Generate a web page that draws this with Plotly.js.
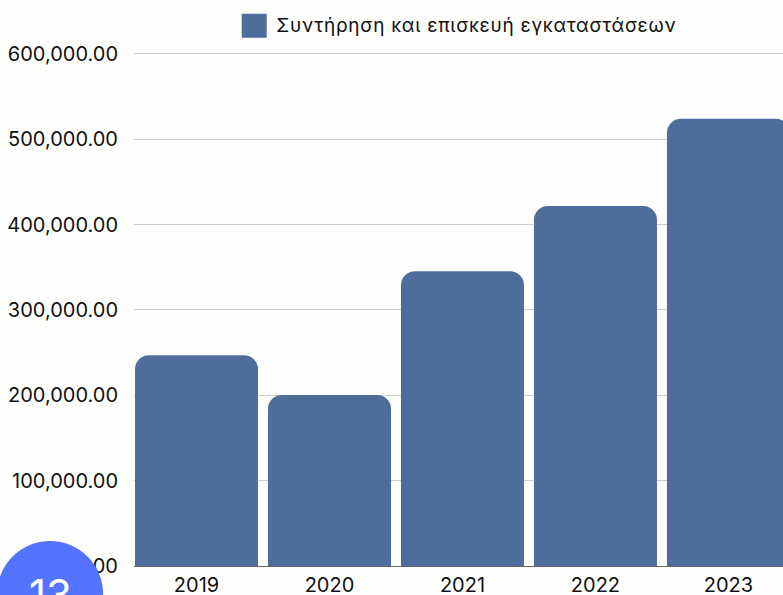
<!DOCTYPE html>
<html>
<head>
<meta charset="utf-8">
<script src="https://cdn.plot.ly/plotly-3.0.1.min.js"></script>
<style>
html,body{margin:0;padding:0;width:783px;height:595px;overflow:hidden;background:#fefefc;}
#chart{width:800px;height:595px;}
.legendtext{letter-spacing:0.72px;}
</style>
</head>
<body>
<div id="chart"></div>
<script>
const years = ['2019','2020','2021','2022','2023'];
const values = [247000, 200500, 345500, 422000, 524000];
const seriesName = 'Συντήρηση και επισκευή εγκαταστάσεων';
const yTicks = [0,100000,200000,300000,400000,500000,600000];
const yTickLabels = ['0.00','100,000.00','200,000.00','300,000.00','400,000.00','500,000.00','600,000.00'];
const barColor = '#4f6d9a';
const badgeText = '13';
const font = 'Inter, sans-serif';

const trace = {type:'bar', x:years, y:values, name:seriesName,
  marker:{color:barColor, line:{width:0}}, showlegend:true, hoverinfo:'y'};

const layout = {
  width:800, height:595,
  margin:{l:134, r:0, t:0, b:29, pad:0},
  paper_bgcolor:'#fefefc', plot_bgcolor:'#fefefc',
  font:{family:font, size:20, color:'#111111'},
  bargap:0.075, barcornerradius:14,
  xaxis:{type:'category', range:[-0.47,4.538], showgrid:false, ticks:'',
    tickfont:{family:font,size:20,color:'#111111'}, showline:true, linecolor:'#666666', linewidth:1,
    zeroline:false, ticklabelstandoff:1},
  yaxis:{domain:[0,0.90813], range:[0,602344], tickvals:yTicks, ticktext:yTickLabels, gridcolor:'#cccccc', gridwidth:1,
    ticks:'', zeroline:false, showline:false, tickfont:{family:font,size:20,color:'#111111'},
    ticklabelstandoff:15},
  legend:{orientation:'h', x:0.1535, xanchor:'left', y:0.9903, yanchor:'top',
    font:{family:font,size:19,color:'#111111'}, bgcolor:'rgba(0,0,0,0)', itemclick:false, itemdoubleclick:false},
  shapes:[{type:'circle', layer:'above', xref:'paper', yref:'paper', xsizemode:'pixel', ysizemode:'pixel',
    xanchor:-0.126, yanchor:-0.0495, x0:-53, x1:53, y0:-53, y1:53,
    fillcolor:'#5473ff', line:{width:0}}],
  annotations:[{text:badgeText, xref:'paper', yref:'paper', x:-0.126, y:-0.0495, xanchor:'center', yanchor:'middle',
    showarrow:false, font:{family:font,size:42,color:'#ffffff'}}]
};

Plotly.newPlot('chart',[trace],layout,{displayModeBar:false,responsive:false}).then(function(gd){
  gd.querySelectorAll('.legendpoints path').forEach(function(p){
    p.setAttribute('d','M10.5,13.5H-14.5V-10.5H10.5Z');
  });
});
</script>
</body>
</html>
